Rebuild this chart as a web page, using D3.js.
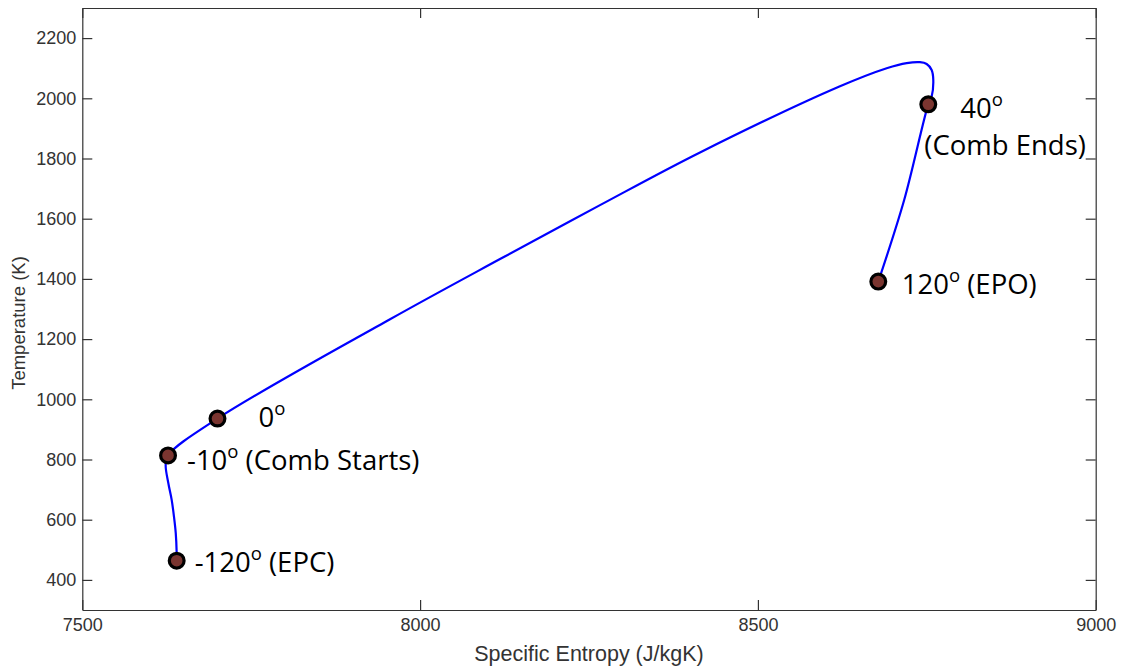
<!DOCTYPE html>
<html>
<head>
<meta charset="utf-8">
<script src="https://cdn.jsdelivr.net/npm/d3@7"></script>
<style>
  html, body { margin: 0; padding: 0; background: #fff; }
  svg { display: block; }
</style>
</head>
<body>
<svg id="chart" width="1124" height="668"></svg>
<script>
// T–s path of the cycle (specific entropy J/kgK, temperature K)
const entropy = [7639.7, 7639.7, 7638.3, 7635.7, 7632.3, 7627.3, 7623.4, 7626.9,
  7700.1, 7955.5, 8118.3, 8266.3, 8414.3, 8621.5, 8690.6, 8720.2,
  8739.9, 8749.8, 8757.2, 8759.6, 8757.2, 8752.2, 8716.5, 8678.2];
const temperature = [463.8, 489, 556, 610, 666, 722, 782, 813.7,
  936, 1266, 1466, 1645, 1820, 2040, 2100, 2117,
  2120, 2114, 2094, 2061, 2006, 1980, 1662, 1391];

// Marked crank-angle states
const markerAngle = ["-120", "-10", "0", "40", "120"];
const markerNote = [" (EPC)", " (Comb Starts)", "", "", " (EPO)"];
const markerEntropy = [7639.7, 7626.9, 7700.1, 8752.2, 8678.2];
const markerTemp = [463.8, 813.7, 936, 1980, 1391];

const xTicks = [7500, 8000, 8500, 9000];
const yTicks = [400, 600, 800, 1000, 1200, 1400, 1600, 1800, 2000, 2200];

const svg = d3.select("#chart");
const plotLeft = 82.3, plotRight = 1095.7, plotTop = 8, plotBottom = 610;

const x = d3.scaleLinear().domain([7500, 9000]).range([plotLeft, plotRight]);
const y = d3.scaleLinear().domain([300, 2300]).range([plotBottom, plotTop]);

const axisColor = "#333";
const tickFont = "'Liberation Sans', Arial, Helvetica, sans-serif";

function styleAxis(g) {
  g.selectAll("path.domain").attr("stroke", axisColor).attr("stroke-width", 1.2);
  g.selectAll(".tick line").attr("stroke", axisColor).attr("stroke-width", 1.2);
  g.selectAll(".tick text").attr("fill", axisColor)
    .style("font-family", tickFont).style("font-size", "18px");
}

svg.append("g").attr("transform", `translate(0,${plotBottom})`)
  .call(d3.axisBottom(x).tickValues(xTicks).tickFormat(d3.format("d"))
    .tickSizeInner(-10).tickSizeOuter(0).tickPadding(8))
  .call(styleAxis);
svg.append("g").attr("transform", `translate(0,${plotTop})`)
  .call(d3.axisTop(x).tickValues(xTicks).tickFormat("")
    .tickSizeInner(-10).tickSizeOuter(0))
  .call(styleAxis);
svg.append("g").attr("transform", `translate(${plotLeft},0)`)
  .call(d3.axisLeft(y).tickValues(yTicks).tickFormat(d3.format("d"))
    .tickSizeInner(-10).tickSizeOuter(0).tickPadding(6))
  .call(styleAxis);
svg.append("g").attr("transform", `translate(${plotRight},0)`)
  .call(d3.axisRight(y).tickValues(yTicks).tickFormat("")
    .tickSizeInner(-10).tickSizeOuter(0))
  .call(styleAxis);

// Axis titles
svg.append("text")
  .attr("x", (plotLeft + plotRight) / 2).attr("y", 661)
  .attr("text-anchor", "middle").attr("fill", axisColor)
  .style("font-family", tickFont).style("font-size", "21.5px")
  .text("Specific Entropy (J/kgK)");
svg.append("text")
  .attr("transform", `translate(25,${(plotTop + plotBottom) / 2 + 14}) rotate(-90)`)
  .attr("text-anchor", "middle").attr("fill", axisColor)
  .style("font-family", tickFont).style("font-size", "18.5px")
  .text("Temperature (K)");

// Cycle path
const pts = entropy.map((s, i) => [s, temperature[i]]);
svg.append("path")
  .datum(pts)
  .attr("fill", "none")
  .attr("stroke", "#0000ff")
  .attr("stroke-width", 2.2)
  .attr("d", d3.line().x(d => x(d[0])).y(d => y(d[1])).curve(d3.curveCatmullRom.alpha(0.5)));

// Markers
const markers = markerAngle.map((a, i) => ({
  angle: a, note: markerNote[i], s: markerEntropy[i], t: markerTemp[i]
}));
svg.selectAll("circle.state")
  .data(markers)
  .join("circle")
  .attr("class", "state")
  .attr("cx", d => x(d.s)).attr("cy", d => y(d.t))
  .attr("r", 7.4)
  .attr("fill", "#7a3530")
  .attr("stroke", "#000")
  .attr("stroke-width", 3.2);

// Annotation text offsets from each marker
const labelFont = "'Open Sans', Lato, sans-serif";
const offsets = {
  "-120": [18, 11],
  "-10": [19, 14.5],
  "0": [41, 8.5],
  "40": [32, 13.5],
  "120": [23.5, 12.5]
};

function addLabel(g, px, py, angle, note) {
  const t = g.append("text")
    .attr("x", px).attr("y", py)
    .attr("fill", "#000")
    .style("font-family", labelFont).style("font-size", "27.5px");
  t.append("tspan").text(angle);
  t.append("tspan").attr("dy", -12).style("font-size", "18.5px").text("o");
  t.append("tspan").attr("dy", 12).text(note);
}

const labels = svg.append("g");
markers.forEach(d => {
  const [dx, dy] = offsets[d.angle];
  const px = x(d.s) + dx, py = y(d.t) + dy;
  addLabel(labels, px, py, d.angle, d.note);
  if (d.angle === "40") {
    labels.append("text")
      .attr("x", x(d.s) - 4).attr("y", py + 37)
      .attr("fill", "#000")
      .style("font-family", labelFont).style("font-size", "27.5px")
      .text("(Comb Ends)");
  }
});
</script>
</body>
</html>
